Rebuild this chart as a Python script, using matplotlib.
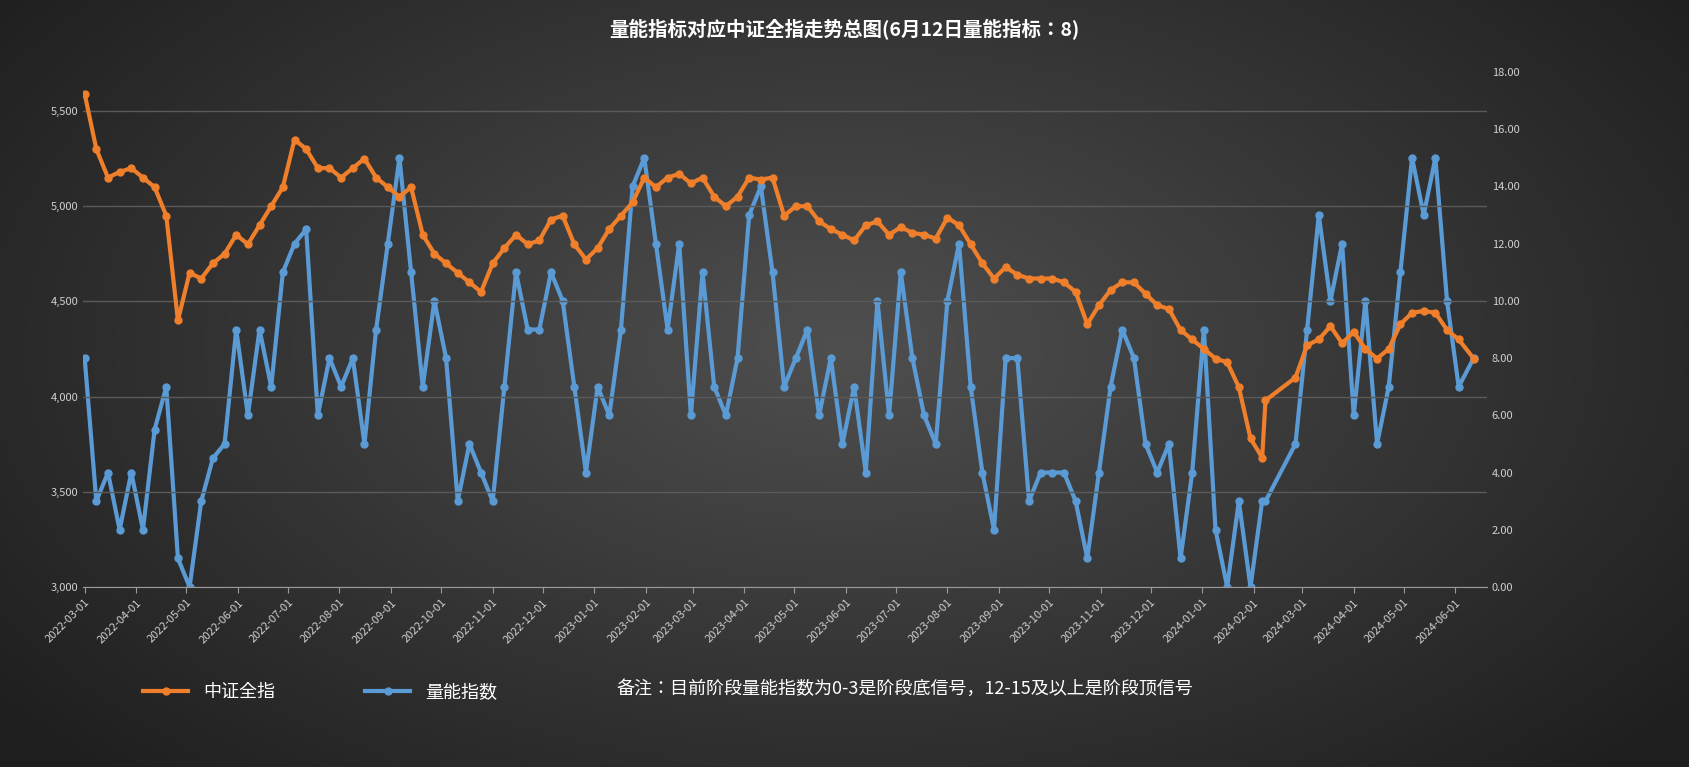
import numpy as np
import pandas as pd
import matplotlib
matplotlib.use("Agg")
import matplotlib.pyplot as plt
import matplotlib.dates as mdates
from matplotlib import font_manager

cjk = [f.name for f in font_manager.fontManager.ttflist if "CJK" in f.name]
cjk_name = "Noto Sans CJK SC" if "Noto Sans CJK SC" in cjk else (cjk[0] if cjk else "DejaVu Sans")
plt.rcParams["font.family"] = cjk_name
plt.rcParams["axes.unicode_minus"] = False

# weekly readings
dates = pd.to_datetime([
    "2022-03-01", "2022-03-08", "2022-03-15", "2022-03-22", "2022-03-29", "2022-04-05", "2022-04-12",
    "2022-04-19", "2022-04-26", "2022-05-03", "2022-05-10", "2022-05-17", "2022-05-24", "2022-05-31",
    "2022-06-07", "2022-06-14", "2022-06-21", "2022-06-28", "2022-07-05", "2022-07-12", "2022-07-19",
    "2022-07-26", "2022-08-02", "2022-08-09", "2022-08-16", "2022-08-23", "2022-08-30", "2022-09-06",
    "2022-09-13", "2022-09-20", "2022-09-27", "2022-10-04", "2022-10-11", "2022-10-18", "2022-10-25",
    "2022-11-01", "2022-11-08", "2022-11-15", "2022-11-22", "2022-11-29", "2022-12-06", "2022-12-13",
    "2022-12-20", "2022-12-27", "2023-01-03", "2023-01-10", "2023-01-17", "2023-01-24", "2023-01-31",
    "2023-02-07", "2023-02-14", "2023-02-21", "2023-02-28", "2023-03-07", "2023-03-14", "2023-03-21",
    "2023-03-28", "2023-04-04", "2023-04-11", "2023-04-18", "2023-04-25", "2023-05-02", "2023-05-09",
    "2023-05-16", "2023-05-23", "2023-05-30", "2023-06-06", "2023-06-13", "2023-06-20", "2023-06-27",
    "2023-07-04", "2023-07-11", "2023-07-18", "2023-07-25", "2023-08-01", "2023-08-08", "2023-08-15",
    "2023-08-22", "2023-08-29", "2023-09-05", "2023-09-12", "2023-09-19", "2023-09-26", "2023-10-03",
    "2023-10-10", "2023-10-17", "2023-10-24", "2023-10-31", "2023-11-07", "2023-11-14", "2023-11-21",
    "2023-11-28", "2023-12-05", "2023-12-12", "2023-12-19", "2023-12-26", "2024-01-02", "2024-01-09",
    "2024-01-16", "2024-01-23", "2024-01-30", "2024-02-06", "2024-02-08", "2024-02-26", "2024-03-04",
    "2024-03-11", "2024-03-18", "2024-03-25", "2024-04-01", "2024-04-08", "2024-04-15", "2024-04-22",
    "2024-04-29", "2024-05-06", "2024-05-13", "2024-05-20", "2024-05-27", "2024-06-03", "2024-06-12",
])

csi_all = [
    5590, 5300, 5150, 5180, 5200, 5150, 5100, 4950, 4400, 4650, 4620, 4700, 4750, 4850,
    4800, 4900, 5000, 5100, 5350, 5300, 5200, 5200, 5150, 5200, 5250, 5150, 5100, 5050,
    5100, 4850, 4750, 4700, 4650, 4600, 4550, 4700, 4780, 4850, 4800, 4820, 4930, 4950,
    4800, 4720, 4780, 4880, 4950, 5020, 5150, 5100, 5150, 5170, 5120, 5150, 5050, 5000,
    5050, 5150, 5140, 5150, 4950, 5000, 5000, 4920, 4880, 4850, 4820, 4900, 4920, 4850,
    4890, 4860, 4850, 4830, 4940, 4900, 4800, 4700, 4620, 4680, 4640, 4620, 4620, 4620,
    4600, 4550, 4380, 4480, 4560, 4600, 4600, 4540, 4480, 4460, 4350, 4300, 4250, 4200,
    4180, 4050, 3780, 3680, 3980, 4100, 4270, 4300, 4370, 4280, 4340, 4250, 4200, 4250,
    4380, 4440, 4450, 4440, 4350, 4300, 4200,
]

volume_idx = [
    8, 3, 4, 2, 4, 2, 5.5, 7, 1, 0, 3, 4.5, 5, 9,
    6, 9, 7, 11, 12, 12.5, 6, 8, 7, 8, 5, 9, 12, 15,
    11, 7, 10, 8, 3, 5, 4, 3, 7, 11, 9, 9, 11, 10,
    7, 4, 7, 6, 9, 14, 15, 12, 9, 12, 6, 11, 7, 6,
    8, 13, 14, 11, 7, 8, 9, 6, 8, 5, 7, 4, 10, 6,
    11, 8, 6, 5, 10, 12, 7, 4, 2, 8, 8, 3, 4, 4,
    4, 3, 1, 4, 7, 9, 8, 5, 4, 5, 1, 4, 9, 2,
    0, 3, 0, 3, 3, 5, 9, 13, 10, 12, 6, 10, 5, 7,
    11, 15, 13, 15, 10, 7, 8,
]

W, H = 1689, 767
fig = plt.figure(figsize=(W / 100, H / 100), dpi=100)

# radial gradient background
bg = fig.add_axes([0, 0, 1, 1], zorder=-10)
yy, xx = np.mgrid[0:H, 0:W]
r = np.sqrt(((xx - W * 0.5) / (W * 0.6)) ** 2 + ((yy - H * 0.45) / (H * 0.75)) ** 2)
shade = np.clip(0.31 - 0.18 * r, 0.12, 0.31)
bg.imshow(np.dstack([shade] * 3), aspect="auto", extent=[0, 1, 0, 1])
bg.axis("off")

ax = fig.add_axes([83 / W, 1 - 587 / H, (1487 - 83) / W, (587 - 72) / H])
ax2 = ax.twinx()

ax.plot(dates, csi_all, color="#f07f2b", lw=3, marker="o", ms=5, zorder=3, label="中证全指")
ax2.plot(dates, volume_idx, color="#5b9bd5", lw=3, marker="o", ms=5, zorder=2, label="量能指数")

ax.set_ylim(3000, 3000 + 515 / 95.2 * 500)
ax.set_yticks([3000, 3500, 4000, 4500, 5000, 5500])
ax.set_yticklabels([f"{v:,}" for v in [3000, 3500, 4000, 4500, 5000, 5500]])
ax2.set_ylim(0, 18)
ax2.set_yticks(np.arange(0, 19, 2))
ax2.set_yticklabels([f"{v:.2f}" for v in np.arange(0, 19, 2)])
ax.set_xlim(pd.Timestamp("2022-02-28"), pd.Timestamp("2024-06-20"))
ax.xaxis.set_major_locator(mdates.MonthLocator())
ax.xaxis.set_major_formatter(mdates.DateFormatter("%Y-%m-%d"))
plt.setp(ax.get_xticklabels(), rotation=45, ha="right", rotation_mode="anchor")

ax.grid(axis="y", color="#5a5a5a", lw=1)
ax.set_axisbelow(True)
for a in (ax, ax2):
    for s in a.spines.values():
        s.set_visible(False)
    a.tick_params(colors="#d0d0d0", labelsize=8, length=0)
ax.spines["bottom"].set_visible(True)
ax.spines["bottom"].set_color("#9a9a9a")
ax.tick_params(axis="x", length=4, color="#9a9a9a")
ax.set_zorder(ax2.get_zorder() + 1)
ax.patch.set_visible(False)
ax2.patch.set_visible(False)

fig.text(0.5, 1 - 30 / H, "量能指标对应中证全指走势总图(6月12日量能指标：8)", ha="center",
         va="center", color="white", fontsize=14, fontweight="bold")
fig.text(905 / W, 1 - 689 / H, "备注：目前阶段量能指数为0-3是阶段底信号，12-15及以上是阶段顶信号",
         ha="center", va="center", color="white", fontsize=13)

h1, l1 = ax.get_legend_handles_labels()
h2, l2 = ax2.get_legend_handles_labels()
fig.legend(h1 + h2, l1 + l2, loc="center", bbox_to_anchor=(320 / W, 1 - 692 / H), ncol=2,
           frameon=False, labelcolor="white", fontsize=13, columnspacing=5, handlelength=2.5)

fig.savefig("out.png", dpi=100, facecolor="#222222")
